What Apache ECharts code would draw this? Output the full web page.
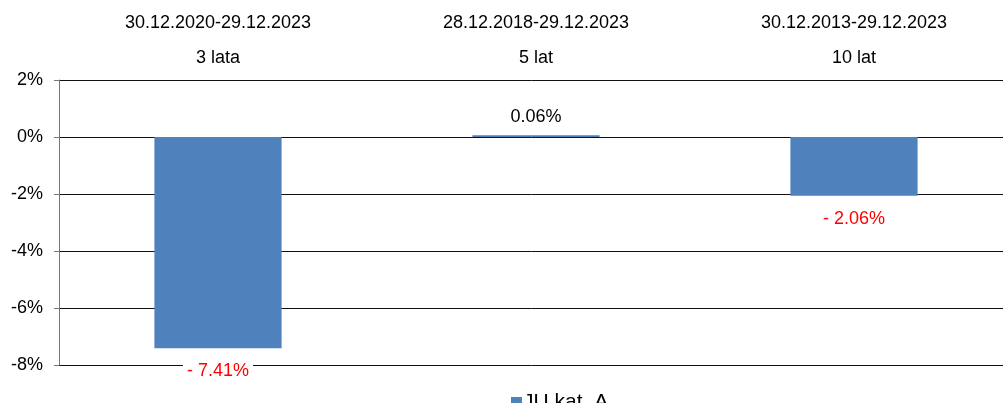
<!DOCTYPE html>
<html>
<head>
<meta charset="utf-8">
<script src="https://cdn.jsdelivr.net/npm/echarts@6/dist/echarts.min.js"></script>
<style>html,body{margin:0;padding:0;background:#fff;}#c{width:1003px;height:403px;}</style>
</head>
<body>
<div id="c"></div>
<script>
const periods = ['30.12.2020-29.12.2023', '28.12.2018-29.12.2023', '30.12.2013-29.12.2023'];
const spans = ['3 lata', '5 lat', '10 lat'];
const seriesName = 'JU kat. A';
const values = [-7.41, 0.06, -2.06];
const yTicks = [2, 0, -2, -4, -6, -8];

const chart = echarts.init(document.getElementById('c'));
const font = 'Liberation Sans, Arial, sans-serif';
chart.setOption({
  animation: false,
  textStyle: { fontFamily: font },
  grid: { left: 59, width: 954, top: 80, height: 285, containLabel: false, outerBoundsMode: 'none' },
  legend: {
    data: [seriesName], top: 387, left: 506,
    itemWidth: 11, itemHeight: 11, itemGap: 3,
    icon: 'rect',
    textStyle: { fontSize: 21, color: '#000', fontFamily: font, padding: [0, 0, 0, -4] }
  },
  xAxis: {
    type: 'category', position: 'top',
    data: periods.map((p, i) => p + '\n' + spans[i]),
    axisLine: { show: false }, axisTick: { show: false },
    axisLabel: { color: '#000', fontSize: 18, lineHeight: 35, margin: 4, fontFamily: font }
  },
  yAxis: {
    type: 'value', min: -8, max: 2, interval: 2,
    axisLine: { show: true, lineStyle: { color: '#777', width: 1 } },
    axisTick: { show: true, length: 5, lineStyle: { color: '#777' } },
    axisLabel: { color: '#000', fontSize: 18, margin: 16, fontFamily: font, formatter: v => v + '%' },
    splitLine: { show: true, lineStyle: { color: '#111', width: 1 } }
  },
  series: [{
    name: seriesName, type: 'bar',
    barWidth: '40%',
    itemStyle: { color: '#4f81bd' },
    label: {
      show: true, fontSize: 18, fontFamily: font,
      formatter: p => p.value < 0 ? '- ' + Math.abs(p.value).toFixed(2) + '%' : p.value.toFixed(2) + '%'
    },
    data: values.map(v => v < 0 ? {
      value: v,
      label: { position: 'bottom', distance: 13, color: '#ff0000', backgroundColor: '#fff', padding: [1, 4] }
    } : {
      value: v,
      label: { position: 'top', distance: 9, color: '#000' }
    })
  }]
});
</script>
</body>
</html>
